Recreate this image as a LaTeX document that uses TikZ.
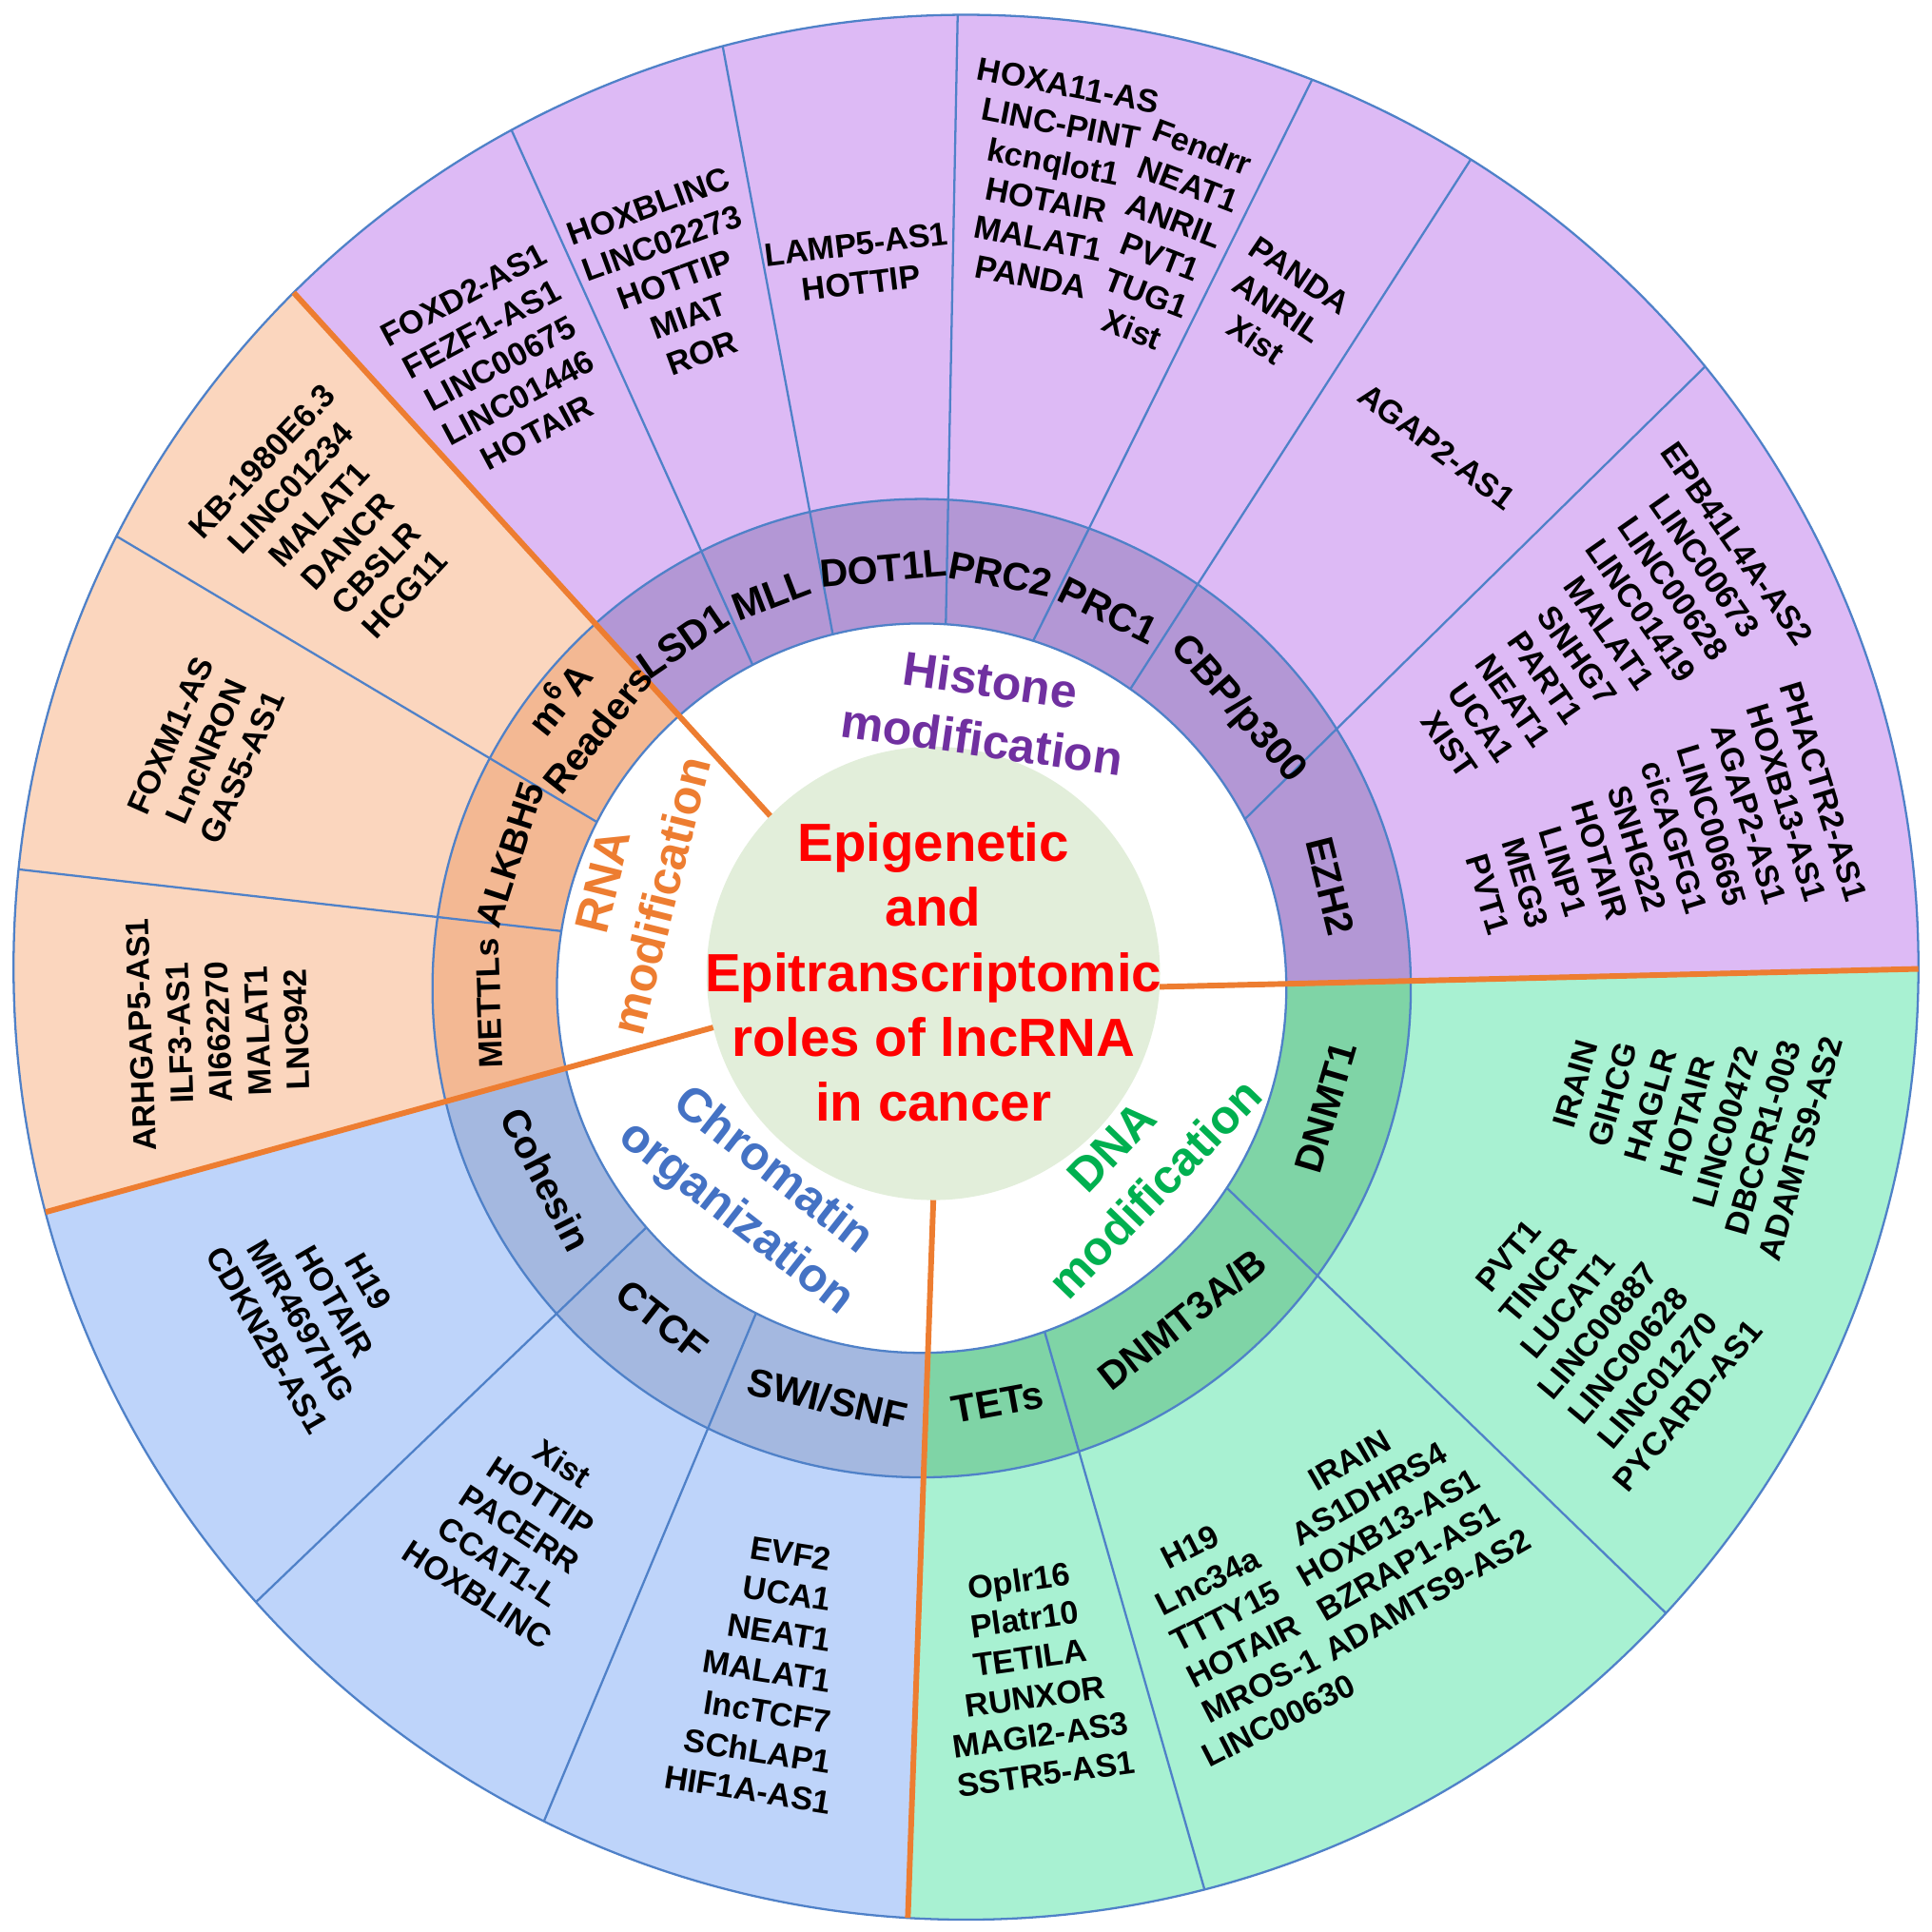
\documentclass[tikz,border=0pt]{standalone}
\usepackage{fontspec}
\setmainfont{Liberation Sans}
\usetikzlibrary{calc}

\definecolor{histL}{RGB}{221,186,245}
\definecolor{histD}{RGB}{179,151,213}
\definecolor{dnaL}{RGB}{168,241,210}
\definecolor{dnaD}{RGB}{127,212,166}
\definecolor{chrL}{RGB}{190,212,250}
\definecolor{chrD}{RGB}{164,184,224}
\definecolor{rnaL}{RGB}{251,214,190}
\definecolor{rnaD}{RGB}{243,184,147}
\definecolor{discG}{RGB}{226,238,218}
\definecolor{rimblue}{RGB}{79,129,200}
\definecolor{catorange}{RGB}{237,125,49}
\definecolor{histtxt}{RGB}{112,48,160}
\definecolor{dnatxt}{RGB}{0,176,80}
\definecolor{chrtxt}{RGB}{68,114,196}

\begin{document}
\begin{tikzpicture}[x=0.01cm, y=0.01cm,
    outtxt/.style={font=\bfseries\fontsize{7.5}{9}\selectfont, align=center, inner sep=0pt},
    ringtxt/.style={font=\bfseries\fontsize{9}{12}\selectfont, align=center, inner sep=0pt},
    cattxt/.style={font=\bfseries\fontsize{11}{13.8}\selectfont, align=center, inner sep=0pt},
    sepline/.style={draw=rimblue, line width=0.5pt},
    catline/.style={draw=catorange, line width=1.3pt}]
  \useasboundingbox (0,0) rectangle (1568,1568);

  % centres of rim, ring and disc
  \coordinate (O) at (784,783);
  \coordinate (C) at (748,766);
  \coordinate (G) at (757.5,778);

  % orange borders between the four groups: disc end and rim end
  \coordinate (Ai) at ($(G)+(136:184)$);   \coordinate (Ao) at ($(O)+(134.9:773)$);
  \coordinate (Bi) at ($(G)+(-3.4:184)$);  \coordinate (Bo) at ($(O)+(-0.1:773)$);
  \coordinate (Ci) at ($(G)+(-90:184)$);   \coordinate (Co) at ($(O)+(-93.5:773)$);
  \coordinate (Di) at ($(G)+(193.8:184)$); \coordinate (Do) at ($(O)+(194.9:773)$);

  % group fills: light on the rim, dark on the ring
  \foreach \cc/\rr/\t in {O/773/L, C/397/D} {
    \begin{scope}
      \clip (\cc) circle (\rr);
      \fill[hist\t] (G) -- (Ai) -- (Ao) -- ($(O)+(134.9:1300)$) -- ($(O)+(90:1300)$)
        -- ($(O)+(45:1300)$) -- ($(O)+(-0.1:1300)$) -- (Bo) -- (Bi) -- cycle;
      \fill[dna\t] (G) -- (Bi) -- (Bo) -- ($(O)+(-0.1:1300)$) -- ($(O)+(-47:1300)$)
        -- ($(O)+(-93.5:1300)$) -- (Co) -- (Ci) -- cycle;
      \fill[chr\t] (G) -- (Ci) -- (Co) -- ($(O)+(-93.5:1300)$) -- ($(O)+(-130:1300)$)
        -- ($(O)+(-165.1:1300)$) -- (Do) -- (Di) -- cycle;
      \fill[rna\t] (G) -- (Di) -- (Do) -- ($(O)+(194.9:1300)$) -- ($(O)+(165:1300)$)
        -- ($(O)+(134.9:1300)$) -- (Ao) -- (Ai) -- cycle;
    \end{scope}
  }
  \fill[white] (C) circle (296);
  \fill[discG] (G) circle (184);

  % thin borders of the sub-sectors (ring angle / rim angle)
  \foreach \a/\b in {117.6/118.5, 104.1/104.8, 86.2/90.5, 72.2/68.7, 55.1/58.0, 27.6/39.1,
                     -33.2/-42.7, -70.3/-75.5, -117.0/-116.3, -139.0/-138.2, 171.0/174.1, 152.9/153.1}
    \draw[sepline] ($(C)+(\a:296)$) -- ($(O)+(\b:773)$);
  \draw[sepline] (O) circle (773) (C) circle (397) (C) circle (296);
  \draw[catline] (Ai) -- (Ao) (Bi) -- (Bo) (Ci) -- (Co) (Di) -- (Do);

  % ring labels, upper side read clockwise
  \foreach \a/\t [count=\i] in {124.5/LSD1, 110.9/MLL, 95.2/DOT1L, 79.2/PRC2, 63.7/PRC1,
                                41.4/{CBP/p300}, 14/EZH2}
    \node[ringtxt, rotate=\a-90] (up\i) at ($(C)+(\a:342)$) {\t};
  \foreach \a/\r/\s/\t [count=\i] in {182/351/7.7/METTLs, 162/351/8.5/ALKBH5,
                                      141.4/359/8.8/{m\textsuperscript{6}A\\Readers}}
    \node[ringtxt, font=\bfseries\fontsize{\s}{11}\selectfont, rotate=\a-90]
      (rn\i) at ($(C)+(\a:\r)$) {\t};
  % ring labels, lower side read anticlockwise
  \foreach \a/\t [count=\i] in {-16.4/DNMT1, -51.8/{DNMT3A/B}, -79.6/TETs,
                                -102.9/{SWI/SNF}, -128/CTCF, -153/Cohesin}
    \node[ringtxt, rotate=\a+90] (lo\i) at ($(C)+(\a:342)$) {\t};

  % group names and title
  \node[cattxt, text=histtxt, rotate=-8] (hist) at (800.5,992) {Histone\\modification};
  \node[cattxt, text=catorange, rotate=76] (rna) at (513,847) {RNA\\modification};
  \node[cattxt, text=chrtxt, rotate=-38] (chrom) at (612,598) {Chromatin\\organization};
  \node[cattxt, text=dnatxt, rotate=46] (dna) at (920,620) {DNA\\modification};
  \node[font=\bfseries\fontsize{12.4}{15}\selectfont, text=red, align=center, inner sep=0pt]
    (title) at (757.5,779) {Epigenetic\\and\\Epitranscriptomic\\roles of lncRNA\\in cancer};

  % Histone modification
  \node[outtxt, rotate=28] (lsd) at (406,1273) {FOXD2-AS1\\FEZF1-AS1\\LINC00675\\LINC01446\\HOTAIR};
  \node[outtxt, rotate=20] (mll) at (548,1341) {HOXBLINC\\LINC02273\\HOTTIP\\MIAT\\ROR};
  \node[outtxt, rotate=7] (dot) at (697,1354) {LAMP5-AS1\\HOTTIP};
  \node[outtxt, rotate=-11] (prcA) at (852,1421) {HOXA11-AS\\LINC-PINT\\kcnqlot1\\HOTAIR\\MALAT1\\PANDA};
  \node[outtxt, rotate=-21] (prcB) at (947.5,1374.5) {Fendrr\\NEAT1\\ANRIL\\PVT1\\TUG1\\Xist};
  \node[outtxt, rotate=-34] (prc1) at (1037,1318) {PANDA\\ANRIL\\Xist};
  \node[outtxt, rotate=-37] (cbp) at (1166,1205.5) {AGAP2-AS1};
  \node[outtxt, rotate=-55] (ezhA) at (1293,1045)
    {EPB41L4A-AS2\\LINC00673\\LINC00628\\LINC01419\\MALAT1\\SNHG7\\PART1\\NEAT1\\UCA1\\XIST};
  \node[outtxt, rotate=-73] (ezhB) at (1344,884)
    {PHACTR2-AS1\\HOXB13-AS1\\AGAP2-AS1\\LINC00665\\cicAGFG1\\SNHG22\\HOTAIR\\LINP1\\MEG3\\PVT1};

  % DNA modification
  \node[outtxt, rotate=74] (dnmA) at (1370,662) {IRAIN\\GIHCG\\HAGLR\\HOTAIR\\LINC00472\\DBCCR1-003\\ADAMTS9-AS2};
  \node[outtxt, rotate=50] (dnmB) at (1297,488) {PVT1\\TINCR\\LUCAT1\\LINC00887\\LINC00628\\LINC01270\\PYCARD-AS1};
  \node[outtxt, rotate=27] (d3A) at (1002,242) {H19\\Lnc34a\\TTTY15\\HOTAIR\\MROS-1\\LINC00630};
  \node[outtxt, rotate=30] (d3B) at (1127,328) {IRAIN\\AS1DHRS4\\HOXB13-AS1\\BZRAP1-AS1\\ADAMTS9-AS2};
  \node[outtxt, rotate=8] (tet) at (838,207) {Oplr16\\Platr10\\TETILA\\RUNXOR\\MAGI2-AS3\\SSTR5-AS1};

  % Chromatin organization
  \node[outtxt, rotate=-60] (coh) at (258,504) {H19\\HOTAIR\\MIR4697HG\\CDKN2B-AS1};
  \node[outtxt, rotate=-33] (ctcf) at (422,327) {Xist\\HOTTIP\\PACERR\\CCAT1-L\\HOXBLINC};
  \foreach \t [count=\i] in {EVF2, UCA1, NEAT1, MALAT1, lncTCF7, SChLAP1, HIF1A-AS1}
    \node[outtxt, anchor=east, rotate=-9] (sw\i) at (675,{302-32.9*(\i-1)}) {\t};

  % RNA modification
  \node[outtxt, rotate=47] (m6a) at (270.5,1139.5) {KB-1980E6.3\\LINC01234\\MALAT1\\DANCR\\CBSLR\\HCG11};
  \node[outtxt, rotate=66] (alk) at (167.5,958) {FOXM1-AS\\LncNRON\\GAS5-AS1};
  \node[outtxt, rotate=92] (mettl) at (177.6,730.4) {ARHGAP5-AS1\\ILF3-AS1\\AI662270\\MALAT1\\LNC942};
\end{tikzpicture}
\end{document}
